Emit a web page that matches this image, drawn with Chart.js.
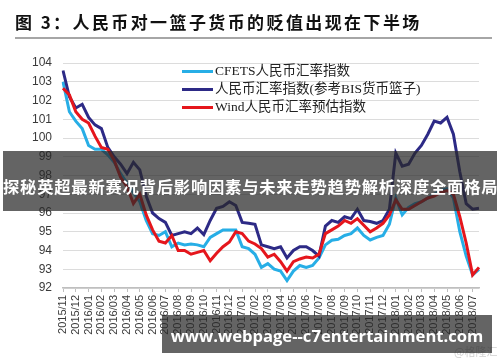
<!DOCTYPE html>
<html>
<head>
<meta charset="utf-8">
<script src="https://cdn.jsdelivr.net/npm/chart.js@4.4.0/dist/chart.umd.min.js"></script>
<style>
  html, body { margin: 0; padding: 0; background: #fff; }
  #wrap { position: relative; width: 500px; height: 362px; overflow: hidden; }
  #chart { position: absolute; left: 0; top: 0; }
  .title { position: absolute; left: 15px; top: 9px; font: bold 17px "Noto Sans CJK SC", sans-serif; letter-spacing: 2.4px; color: #111; white-space: nowrap; }
  .rule { position: absolute; left: 15px; top: 37px; width: 477px; height: 2px; background: #a6a6a6; }
  .legend { position: absolute; left: 182px; top: 62px; font: 13.5px "Liberation Serif", "Noto Sans CJK SC", serif; color: #222; }
  .legend div { height: 18px; line-height: 18px; white-space: nowrap; }
  .legend span { display: inline-block; width: 31px; height: 3px; margin-right: 2px; vertical-align: middle; }
  .banner { position: absolute; background: rgba(40,40,40,0.72); color: #fff; font-weight: bold; white-space: nowrap; }
  .b1 { left: 3px; top: 151px; width: 494px; height: 60px; font: bold 16.3px "Noto Sans CJK SC", sans-serif; line-height: 70px; text-align: center; letter-spacing: 0.8px; }
  .b2 { left: 162px; top: 315px; width: 330px; height: 38px; font: bold 16.6px "Open Sans", sans-serif; line-height: 42px; text-align: center; }
  .wm { position: absolute; left: 454px; top: 343px; font: 11px "Noto Sans CJK SC", sans-serif; color: #d0d0d0; }
</style>
</head>
<body>
<div id="wrap">
  <canvas id="chart" width="500" height="362"></canvas>
  <div class="title">图 3：人民币对一篮子货币的贬值出现在下半场</div>
  <div class="rule"></div>
  <div class="legend" id="legend"></div>
  <div class="wm">@格隆汇</div>
  <div class="banner b1">探秘英超最新赛况背后影响因素与未来走势趋势解析深度全面格局</div>
  <div class="banner b2">www.webpage--c7entertainment.com</div>
</div>
<script>
// months shown on the x axis (two readings per month)
const months = ['2015/11','2015/12',
  '2016/01','2016/02','2016/03','2016/04','2016/05','2016/06','2016/07','2016/08','2016/09','2016/10','2016/11','2016/12',
  '2017/01','2017/02','2017/03','2017/04','2017/05','2017/06','2017/07','2017/08','2017/09','2017/10','2017/11','2017/12',
  '2018/01','2018/02','2018/03','2018/04','2018/05','2018/06','2018/07'];

const seriesNames = ['CFETS人民币汇率指数', '人民币汇率指数(参考BIS货币篮子)', 'Wind人民币汇率预估指数'];
const seriesColors = ['#27aee6', '#2d2a86', '#e5161c'];

const cfets = [103.0, 101.4, 100.9, 100.5, 99.6, 99.4, 99.4, 99.1, 98.7, 98.1,
  97.6, 97.1, 96.6, 95.6, 94.9, 94.8, 95.0, 94.2, 94.4, 94.3,
  94.35, 94.3, 94.2, 94.7, 94.9, 95.1, 95.1, 95.1, 94.2, 94.1,
  93.8, 93.1, 93.3, 93.0, 92.9, 92.4, 92.9, 93.2, 93.1, 93.2,
  93.6, 94.3, 94.55, 94.6, 94.8, 94.9, 95.2, 94.8, 94.56, 94.7,
  94.8, 95.4, 96.8, 95.9, 96.3, 96.5, 96.6, 96.8, 97.0, 97.2,
  97.3, 96.8, 95.0, 93.7, 92.7, 93.0];

const bis = [103.6, 102.2, 101.6, 101.8, 101.1, 100.7, 100.5, 99.5, 99.0, 98.6,
  98.1, 98.7, 98.3, 96.9, 96.0, 95.7, 95.5, 94.8, 94.9, 95.0,
  94.9, 95.2, 94.85, 95.6, 96.25, 96.35, 96.6, 96.4, 95.5, 95.45,
  95.4, 94.3, 94.2, 94.1, 94.2, 93.6, 94.0, 94.2, 94.2, 94.0,
  93.7, 95.3, 95.6, 95.5, 95.8, 95.7, 96.2, 95.6, 95.55, 95.45,
  95.6, 96.2, 99.2, 98.5, 98.6, 99.2, 99.6, 100.2, 100.9, 100.8,
  101.1, 100.2, 98.2, 96.5, 96.2, 96.25];

const wind = [102.65, 102.3, 101.4, 101.0, 100.8, 100.1, 99.5, 99.4, 98.8, 97.9,
  97.4, 96.5, 97.0, 95.9, 95.1, 94.5, 94.4, 94.8, 94.0, 94.0,
  93.8, 93.9, 94.0, 93.45, 93.85, 94.2, 94.45, 95.0, 94.9, 94.5,
  94.35, 94.1, 93.65, 93.8, 93.4, 92.9, 93.4, 93.55, 93.65, 93.6,
  93.8, 94.9, 95.1, 95.3, 95.6, 95.45, 95.7, 95.35, 95.0, 95.2,
  95.45, 95.9, 96.7, 96.2, 96.2, 96.4, 96.6, 96.8, 96.9, 97.1,
  97.2, 97.0, 95.8, 94.4, 92.7, 93.1];

const yMin = 92, yMax = 104;

// category labels: month name, then a blank half-month slot
const labels = [];
months.forEach(m => { labels.push(m); labels.push(''); });
labels.length = cfets.length;

// html legend
const legendEl = document.getElementById('legend');
seriesNames.forEach((name, i) => {
  const row = document.createElement('div');
  const sw = document.createElement('span');
  sw.style.background = seriesColors[i];
  row.appendChild(sw);
  row.appendChild(document.createTextNode(name));
  legendEl.appendChild(row);
});

const values = [cfets, bis, wind];
const drawOrder = [2, 1, 0];

new Chart(document.getElementById('chart'), {
  type: 'line',
  data: {
    labels: labels,
    datasets: values.map((v, i) => ({
      label: seriesNames[i],
      data: v,
      borderColor: seriesColors[i],
      backgroundColor: seriesColors[i],
      borderWidth: 3,
      pointRadius: 0,
      tension: 0,
      order: drawOrder[i]
    }))
  },
  options: {
    responsive: false,
    animation: false,
    layout: { padding: { left: 0, top: 63, right: 21, bottom: 0 } },
    plugins: { legend: { display: false }, tooltip: { enabled: false } },
    scales: {
      x: {
        afterFit: s => { s.height = 74; },
        grid: {
          drawOnChartArea: false,
          tickLength: 4,
          color: ctx => (labels[ctx.index] ? '#bfbfbf' : 'rgba(0,0,0,0)')
        },
        border: { display: true, color: '#bfbfbf', width: 1.5 },
        ticks: {
          autoSkip: false,
          maxRotation: 90,
          minRotation: 90,
          padding: 3,
          color: '#3a3a3a',
          font: { family: 'Liberation Sans', size: 11 }
        }
      },
      y: {
        min: yMin,
        max: yMax,
        afterFit: s => { s.width = 63; },
        grid: { color: '#dcdcdc', drawTicks: false },
        border: { display: false },
        ticks: {
          stepSize: 1,
          padding: 11,
          color: '#3a3a3a',
          font: { family: 'Liberation Sans', size: 12 }
        }
      }
    }
  }
});
</script>
</body>
</html>
